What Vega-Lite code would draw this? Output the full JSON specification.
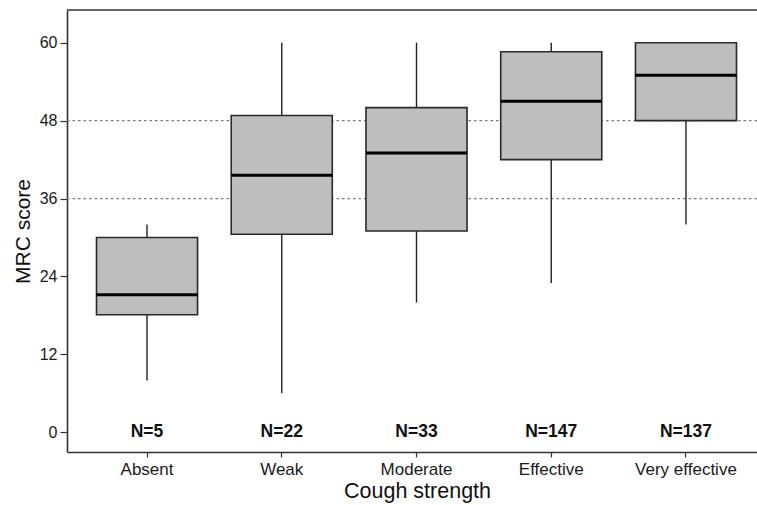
{
  "$schema": "https://vega.github.io/schema/vega-lite/v6.json",
  "autosize": {"type": "none"},
  "width": 690,
  "height": 442,
  "padding": {"left": 67, "top": 10, "right": 0, "bottom": 53},
  "background": "white",
  "config": {
    "view": {"stroke": null},
    "font": "Liberation Sans",
    "axis": {"grid": false, "domainColor": "#333333", "domainWidth": 1.6, "tickColor": "#333333", "tickWidth": 1.2, "labelColor": "#1a1a1a", "titleColor": "#111111", "labelFont": "Liberation Sans", "titleFont": "Liberation Sans", "titleFontWeight": "normal"}
  },
  "datasets": {
    "boxes": [
      {"cat": "Absent", "lo": 8, "q1": 18.1, "med": 21.2, "q3": 30, "hi": 32, "label": "N=5"},
      {"cat": "Weak", "lo": 6, "q1": 30.5, "med": 39.6, "q3": 48.8, "hi": 60, "label": "N=22"},
      {"cat": "Moderate", "lo": 20, "q1": 31, "med": 43, "q3": 50, "hi": 60, "label": "N=33"},
      {"cat": "Effective", "lo": 23, "q1": 42, "med": 51, "q3": 58.6, "hi": 60, "label": "N=147"},
      {"cat": "Very effective", "lo": 32, "q1": 48, "med": 55, "q3": 60, "hi": 60, "label": "N=137"}
    ],
    "refs": [{"h": 36}, {"h": 48}]
  },
  "layer": [
    {
      "data": {"name": "refs"},
      "mark": {"type": "rule", "color": "#7a7a7a", "strokeDash": [2.5, 3], "strokeWidth": 1.3},
      "encoding": {
        "y": {"field": "h", "type": "quantitative", "scale": {"domain": [-3.03, 65.04], "nice": false, "zero": false}}
      }
    },
    {
      "data": {"name": "boxes"},
      "mark": {"type": "rule", "color": "#222222", "strokeWidth": 1.4},
      "encoding": {
        "x": {"field": "cat", "type": "nominal", "sort": ["Absent", "Weak", "Moderate", "Effective", "Very effective"],
          "scale": {"type": "band", "paddingInner": 0.25, "paddingOuter": 0.1855, "align": 0.59},
          "axis": {"title": "Cough strength", "labelAngle": 0, "labelFontSize": 17, "titleFontSize": 21.5, "tickSize": 5, "labelPadding": 4, "titlePadding": 3, "titleX": 350}},
        "y": {"field": "lo", "type": "quantitative", "scale": {"domain": [-3.03, 65.04], "nice": false, "zero": false},
          "axis": {"title": "MRC score", "values": [0, 12, 24, 36, 48, 60], "labelFontSize": 16, "titleFontSize": 21, "tickSize": 7, "labelPadding": 3, "titlePadding": 6}},
        "y2": {"field": "hi"}
      }
    },
    {
      "data": {"name": "boxes"},
      "mark": {"type": "bar", "fill": "#bebebe", "stroke": "#2a2a2a", "strokeWidth": 1.6},
      "encoding": {
        "x": {"field": "cat", "type": "nominal", "sort": ["Absent", "Weak", "Moderate", "Effective", "Very effective"]},
        "y": {"field": "q1", "type": "quantitative"},
        "y2": {"field": "q3"}
      }
    },
    {
      "data": {"name": "boxes"},
      "mark": {"type": "tick", "color": "#000000", "size": 101, "thickness": 3, "opacity": 1},
      "encoding": {
        "x": {"field": "cat", "type": "nominal", "sort": ["Absent", "Weak", "Moderate", "Effective", "Very effective"]},
        "y": {"field": "med", "type": "quantitative"}
      }
    },
    {
      "data": {"name": "boxes"},
      "mark": {"type": "text", "fontWeight": "bold", "fontSize": 17.5, "color": "#111111", "baseline": "middle"},
      "encoding": {
        "x": {"field": "cat", "type": "nominal", "sort": ["Absent", "Weak", "Moderate", "Effective", "Very effective"]},
        "y": {"datum": 0},
        "text": {"field": "label"}
      }
    },
    {
      "data": {"values": [{"t": 65.04}]},
      "mark": {"type": "rule", "color": "#333333", "strokeWidth": 1.6},
      "encoding": {"y": {"field": "t", "type": "quantitative"}}
    }
  ]
}
